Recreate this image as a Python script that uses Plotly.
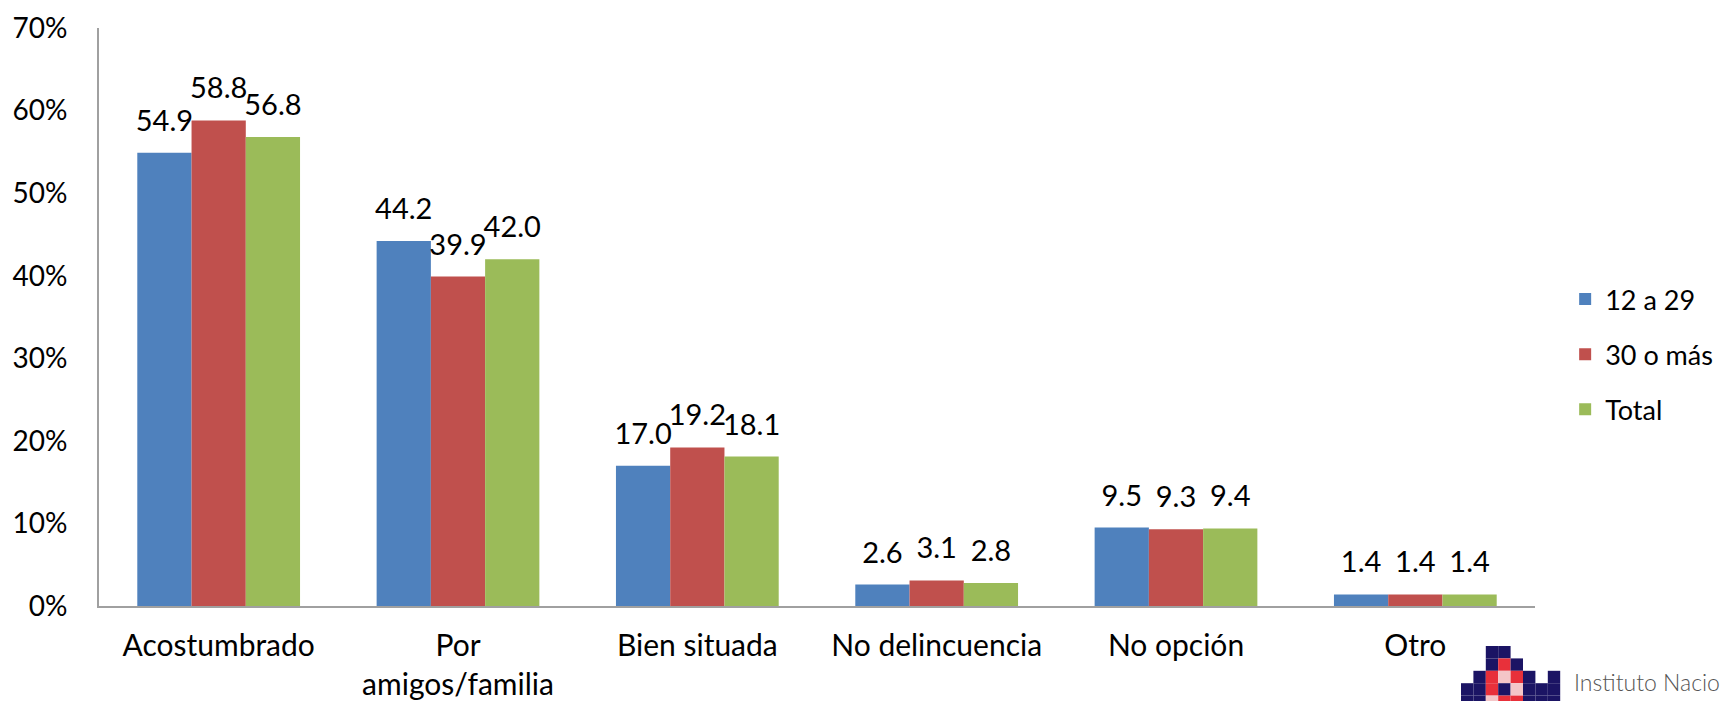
import plotly.graph_objects as go

categories = ["Acostumbrado", "Por<br>amigos/familia", "Bien situada",
              "No delincuencia", "No opción", "Otro"]
jovenes = [54.9, 44.2, 17.0, 2.6, 9.5, 1.4]
adultos = [58.8, 39.9, 19.2, 3.1, 9.3, 1.4]
total = [56.8, 42.0, 18.1, 2.8, 9.4, 1.4]
series_names = ["12 a 29", "30 o más", "Total"]
colors = ["#4F81BD", "#C0504D", "#9BBB59"]

FONT = "Lato"
W, H = 1725, 701
L, R, T, B = 99, 190, 28, 95
GAP = 0.32

fig = go.Figure()
for name, vals, col in zip(series_names, [jovenes, adultos, total], colors):
    fig.add_trace(go.Bar(
        x=categories, y=vals, name=name, legendgroup=name,
        marker=dict(color=col, line=dict(width=0)),
    ))
# value labels: grouped text-only scatter so the gap above the bars can be set
for name, vals in zip(series_names, [jovenes, adultos, total]):
    fig.add_trace(go.Scatter(
        x=categories, y=vals, mode="markers+text", showlegend=False,
        hoverinfo="skip", cliponaxis=False,
        marker=dict(size=22, color="rgba(0,0,0,0)"),
        text=[f"{v:.1f}" for v in vals], textposition="top center",
        textfont=dict(family=FONT, size=29, color="black"),
    ))


# small institutional logo (bottom right), drawn in pixels -> paper
def px_to_paper(x, y):
    return (x - L) / (W - L - R), (H - B - y) / (H - T - B)


navy, red, pale = "#1B1464", "#E8303A", "#F4C6C8"
logo_cells = [
    (0, 2, navy), (0, 3, navy),
    (1, 2, navy), (1, 3, red), (1, 4, navy),
    (2, 1, navy), (2, 2, red), (2, 3, pale), (2, 4, red), (2, 5, navy), (2, 7, navy),
    (3, 0, navy), (3, 1, navy), (3, 2, red), (3, 3, navy), (3, 4, pale),
    (3, 5, navy), (3, 6, navy), (3, 7, navy),
    (4, 0, navy), (4, 1, navy), (4, 2, pale), (4, 3, red), (4, 4, red),
    (4, 5, navy), (4, 6, navy), (4, 7, navy),
]
cell = 12.4
shapes = []
for r, c, col in logo_cells:
    x0, y0 = px_to_paper(1461 + c * cell, 646 + r * cell)
    x1, y1 = px_to_paper(1461 + (c + 1) * cell, 646 + (r + 1) * cell)
    shapes.append(dict(type="rect", xref="paper", yref="paper",
                       x0=x0, x1=x1, y0=y1, y1=y0,
                       fillcolor=col, line=dict(width=0), layer="above"))

tx, ty = px_to_paper(1572, 682)
fig.update_layout(
    width=W, height=H,
    margin=dict(l=L, r=R, t=T, b=B, autoexpand=False),
    paper_bgcolor="white", plot_bgcolor="white",
    barmode="group", bargap=GAP, bargroupgap=0,
    scattermode="group", scattergap=GAP,
    font=dict(family=FONT, size=28, color="black"),
    legend=dict(x=1.021, xanchor="left", y=0.435, yanchor="middle",
                traceorder="grouped", tracegroupgap=17,
                font=dict(family=FONT, size=27), itemwidth=30),
    shapes=shapes,
    annotations=[dict(text="Instituto Nacio", xref="paper", yref="paper",
                      x=tx, y=ty, xanchor="left", yanchor="middle",
                      showarrow=False,
                      font=dict(family=FONT, size=23, color="#555555", weight=300))],
)
fig.update_yaxes(range=[0, 70], dtick=10, ticksuffix="%", showgrid=False,
                 zeroline=False, showline=True, linecolor="#A0A0A0", linewidth=2,
                 ticks="", ticklabelstandoff=24, automargin=False,
                 tickfont=dict(family=FONT, size=28))
fig.update_xaxes(showline=True, linecolor="#A0A0A0", linewidth=2, ticks="",
                 ticklabelstandoff=12, automargin=False,
                 tickfont=dict(family=FONT, size=30))

# the page body has a default margin; drop it so the figure fills the window
fig.write_html("out.html", config={"displayModeBar": False},
               post_script="document.body.style.margin='0';")
